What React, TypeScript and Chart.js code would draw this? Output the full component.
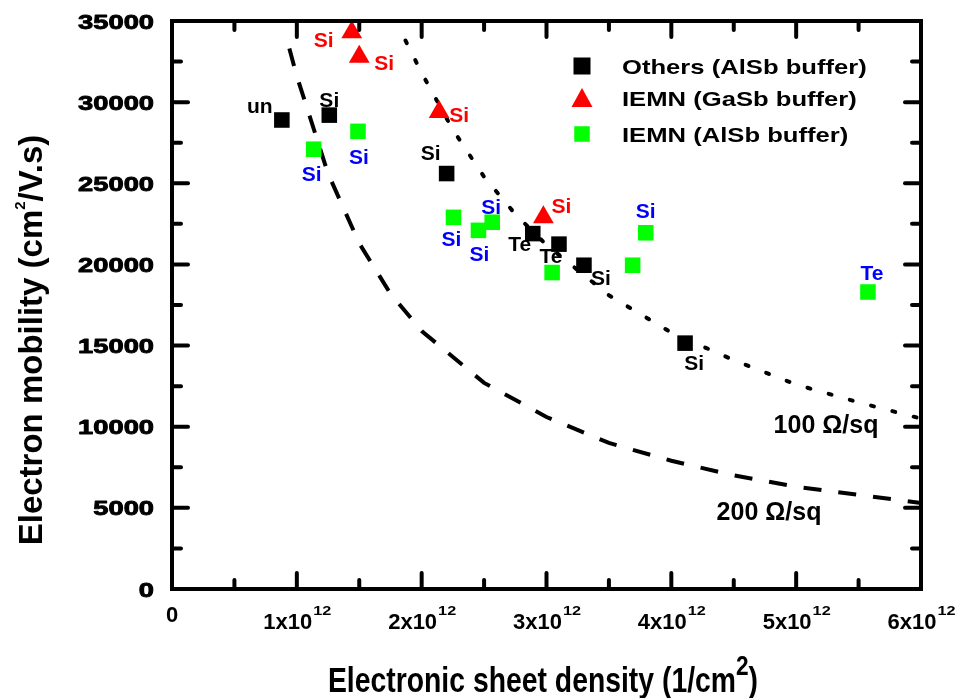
import React, { useEffect, useRef } from "react";
import { Chart, registerables } from "chart.js";

Chart.register(...registerables);

// Sheet density (cm^-2) and electron mobility (cm^2/V.s) of the reported structures
const othersDensity = [0.88e12, 1.26e12, 2.2e12, 2.89e12, 3.1e12, 3.3e12, 4.11e12];
const othersMobility = [28900, 29200, 25600, 21900, 21250, 19950, 15150];
const othersDoping = ["un", "Si", "Si", "Te", "Te", "Si", "Si"];

const gasbDensity = [1.44e12, 1.5e12, 2.14e12, 2.975e12];
const gasbMobility = [34300, 32800, 29400, 22900];
const gasbDoping = ["Si", "Si", "Si", "Si"];

const alsbDensity = [1.135e12, 1.49e12, 2.255e12, 2.455e12, 2.565e12, 3.045e12, 3.69e12, 3.795e12, 5.575e12];
const alsbMobility = [27100, 28200, 22900, 22100, 22600, 19500, 19950, 21950, 18300];
const alsbDoping = ["Si", "Si", "Si", "Si", "Si", "", "", "Si", "Te"];

// Constant sheet-resistance curves
const r100Density = [1.87e12, 2.0e12, 2.25e12, 2.5e12, 2.75e12, 3.0e12, 3.5e12, 4.0e12, 4.5e12, 5.0e12, 5.5e12, 6.0e12];
const r100Mobility = [33800, 31800, 28300, 25400, 23100, 21200, 18100, 15800, 14100, 12600, 11500, 10500];
const r200Density = [0.94e12, 1.0e12, 1.25e12, 1.5e12, 1.75e12, 2.0e12, 2.5e12, 3.0e12, 3.5e12, 4.0e12, 4.5e12, 5.0e12, 5.5e12, 6.0e12];
const r200Mobility = [33300, 31600, 25600, 21300, 18200, 15900, 12700, 10600, 9000, 7900, 7000, 6300, 5800, 5300];

const xTickValues = [0, 1e12, 2e12, 3e12, 4e12, 5e12, 6e12];
const xTickLabels = ["0", "1x10^12", "2x10^12", "3x10^12", "4x10^12", "5x10^12", "6x10^12"];
const xMinorTicks = [0.5e12, 1.5e12, 2.5e12, 3.5e12, 4.5e12, 5.5e12];
const yTickValues = [0, 5000, 10000, 15000, 20000, 25000, 30000, 35000];
const yTickLabels = ["0", "5000", "10000", "15000", "20000", "25000", "30000", "35000"];
const yMinorTicks = [2500, 7500, 12500, 17500, 22500, 27500, 32500];

const seriesNames = ["Others (AlSb buffer)", "IEMN (GaSb buffer)", "IEMN (AlSb buffer)"];
const curveNames = ["100 Ω/sq", "200 Ω/sq"];
const xTitle = ["Electronic sheet density (1/cm", "2", ")"];
const yTitle = ["Electron mobility (cm", "2", "/V.s)"];

// Pixel offsets of the doping tags from their markers
const othersTagOffset = [[-22, -14], [0, -16], [-16, -21], [-13, 10], [-8, 11], [17, 12], [9, 19]];
const gasbTagOffset = [[-28, 7], [25, 6], [20, 3], [18, -12]];
const alsbTagOffset = [[-2, 24], [1, 25], [-2, 21], [1, 23], [-1, -16], [0, 0], [0, 0], [0, -22], [4, -20]];

const FAMILY = '"Liberation Sans", Arial, sans-serif';
const BLACK = "#000000";
const RED = "#ff0000";
const GREEN = "#00ff00";
const BLUE = "#0000ff";

function pts(xs: number[], ys: number[]) {
  return xs.map((x, i) => ({ x, y: ys[i] }));
}

function text(
  ctx: CanvasRenderingContext2D,
  s: string,
  x: number,
  y: number,
  size: number,
  sx: number,
  align: CanvasTextAlign,
  heavy = 0
) {
  ctx.save();
  ctx.font = `bold ${size}px ${FAMILY}`;
  ctx.translate(x, y);
  ctx.scale(sx, 1);
  ctx.textAlign = align;
  ctx.textBaseline = "alphabetic";
  ctx.fillText(s, 0, 0);
  if (heavy > 0) {
    ctx.lineWidth = heavy;
    ctx.lineJoin = "round";
    ctx.strokeStyle = ctx.fillStyle;
    ctx.strokeText(s, 0, 0);
  }
  ctx.restore();
}

function width(ctx: CanvasRenderingContext2D, s: string, size: number, sx: number) {
  ctx.save();
  ctx.font = `bold ${size}px ${FAMILY}`;
  const w = ctx.measureText(s).width * sx;
  ctx.restore();
  return w;
}

const decorations = {
  id: "decorations",
  afterDatasetsDraw(chart: any) {
    const { ctx, chartArea: a, scales } = chart;
    const xs = scales.x;
    const ys = scales.y;
    ctx.save();
    ctx.fillStyle = BLACK;
    ctx.strokeStyle = BLACK;

    // ticks on all four sides, pointing inward
    ctx.lineWidth = 4;
    ctx.lineCap = "round";
    const tick = (x1: number, y1: number, x2: number, y2: number) => {
      ctx.beginPath();
      ctx.moveTo(x1, y1);
      ctx.lineTo(x2, y2);
      ctx.stroke();
    };
    const major = 16;
    const minor = 9;
    xTickValues.forEach((v) => {
      const px = xs.getPixelForValue(v);
      tick(px, a.bottom, px, a.bottom - major);
      tick(px, a.top, px, a.top + major);
    });
    xMinorTicks.forEach((v) => {
      const px = xs.getPixelForValue(v);
      tick(px, a.bottom, px, a.bottom - minor);
      tick(px, a.top, px, a.top + minor);
    });
    yTickValues.forEach((v) => {
      const py = ys.getPixelForValue(v);
      tick(a.left, py, a.left + major, py);
      tick(a.right, py, a.right - major, py);
    });
    yMinorTicks.forEach((v) => {
      const py = ys.getPixelForValue(v);
      tick(a.left, py, a.left + minor, py);
      tick(a.right, py, a.right - minor, py);
    });

    // frame
    ctx.lineCap = "butt";
    ctx.lineJoin = "miter";
    ctx.lineWidth = 4;
    ctx.strokeRect(a.left, a.top, a.right - a.left, a.bottom - a.top);

    // y tick labels
    yTickLabels.forEach((lab, i) => {
      const py = ys.getPixelForValue(yTickValues[i]);
      text(ctx, lab, a.left - 18, py + 7.5, 21, 1.3, "right", 0.9);
    });

    // x tick labels with exponent
    xTickLabels.forEach((lab, i) => {
      const px = xs.getPixelForValue(xTickValues[i]);
      const [base, exp] = lab.split("^");
      if (!exp) {
        text(ctx, base, px, a.bottom + 33, 22, 1, "center");
        return;
      }
      const w1 = width(ctx, base, 22, 1);
      const w2 = width(ctx, exp, 13, 1.25);
      const start = px - (w1 + w2) / 2;
      text(ctx, base, start, a.bottom + 40, 22, 1, "left");
      text(ctx, exp, start + w1 + 1, a.bottom + 26, 13, 1.25, "left");
    });

    // x axis title
    {
      const sx = 0.81;
      const w1 = width(ctx, xTitle[0], 35, sx);
      const w2 = width(ctx, xTitle[1], 28, sx);
      const w3 = width(ctx, xTitle[2], 35, sx);
      const cx = 543;
      const base = 692;
      let x0 = cx - (w1 + w2 + w3) / 2;
      text(ctx, xTitle[0], x0, base, 35, sx, "left");
      x0 += w1;
      text(ctx, xTitle[1], x0, base - 17, 28, sx, "left");
      x0 += w2;
      text(ctx, xTitle[2], x0, base, 35, sx, "left");
    }

    // y axis title
    {
      ctx.save();
      ctx.translate(42, 340);
      ctx.rotate(-Math.PI / 2);
      const w1 = width(ctx, yTitle[0], 33, 1);
      const w2 = width(ctx, yTitle[1], 15, 1);
      const w3 = width(ctx, yTitle[2], 33, 1);
      let x0 = -(w1 + w2 + w3) / 2;
      text(ctx, yTitle[0], x0, 0, 33, 1, "left");
      x0 += w1;
      text(ctx, yTitle[1], x0, -17, 15, 1, "left");
      x0 += w2;
      text(ctx, yTitle[2], x0, 0, 33, 1, "left");
      ctx.restore();
    }

    // doping tags next to markers
    const tags = (dx: number[], dy: number[], names: string[], off: number[][], color: string) => {
      ctx.fillStyle = color;
      names.forEach((n, i) => {
        if (!n) return;
        const px = xs.getPixelForValue(dx[i]) + off[i][0];
        const py = ys.getPixelForValue(dy[i]) + off[i][1];
        text(ctx, n, px, py + 7.5, 21, 1, "center");
      });
    };
    tags(othersDensity, othersMobility, othersDoping, othersTagOffset, BLACK);
    tags(gasbDensity, gasbMobility, gasbDoping, gasbTagOffset, RED);
    tags(alsbDensity, alsbMobility, alsbDoping, alsbTagOffset, BLUE);

    // curve labels
    ctx.fillStyle = BLACK;
    text(ctx, curveNames[0], 826, 433, 25, 1, "center");
    text(ctx, curveNames[1], 769, 520, 25, 1, "center");

    // legend
    const lx = 582;
    const rows = [66, 98, 134];
    ctx.fillStyle = BLACK;
    ctx.fillRect(lx - 8.5, rows[0] - 8.5, 17, 17);
    ctx.fillStyle = RED;
    ctx.beginPath();
    ctx.moveTo(lx, rows[1] - 10);
    ctx.lineTo(lx + 10.5, rows[1] + 9);
    ctx.lineTo(lx - 10.5, rows[1] + 9);
    ctx.closePath();
    ctx.fill();
    ctx.fillStyle = GREEN;
    ctx.fillRect(lx - 7.75, rows[2] - 7.75, 15.5, 15.5);
    ctx.fillStyle = BLACK;
    seriesNames.forEach((n, i) => {
      text(ctx, n, 622, rows[i] + 7.5, 21, 1.22, "left");
    });

    ctx.restore();
  },
};

export default function App() {
  const ref = useRef<HTMLCanvasElement | null>(null);

  useEffect(() => {
    if (!ref.current) return;
    const chart = new Chart(ref.current, {
      type: "scatter",
      data: {
        datasets: [
          {
            label: seriesNames[0],
            data: pts(othersDensity, othersMobility),
            pointStyle: "rect",
            pointRadius: 11,
            backgroundColor: BLACK,
            borderColor: BLACK,
            borderWidth: 0,
            order: 1,
          },
          {
            label: seriesNames[1],
            data: pts(gasbDensity, gasbMobility),
            pointStyle: "triangle",
            pointRadius: 12,
            backgroundColor: RED,
            borderColor: RED,
            borderWidth: 0,
            order: 1,
          },
          {
            label: seriesNames[2],
            data: pts(alsbDensity, alsbMobility),
            pointStyle: "rect",
            pointRadius: 11,
            backgroundColor: GREEN,
            borderColor: GREEN,
            borderWidth: 0,
            order: 1,
          },
          {
            label: curveNames[0],
            data: pts(r100Density, r100Mobility),
            showLine: true,
            pointRadius: 0,
            borderColor: BLACK,
            borderWidth: 4,
            borderDash: [3, 19],
            borderCapStyle: "round",
            tension: 0,
            fill: false,
            order: 5,
          },
          {
            label: curveNames[1],
            data: pts(r200Density, r200Mobility),
            showLine: true,
            pointRadius: 0,
            borderColor: BLACK,
            borderWidth: 4,
            borderDash: [18, 17],
            borderCapStyle: "butt",
            tension: 0,
            fill: false,
            order: 5,
          },
        ],
      },
      options: {
        animation: false,
        responsive: true,
        maintainAspectRatio: false,
        events: [],
        layout: { padding: { left: 172, right: 37, top: 21, bottom: 109 } },
        plugins: { legend: { display: false }, tooltip: { enabled: false } },
        scales: {
          x: { type: "linear", min: 0, max: 6e12, display: false },
          y: { type: "linear", min: 0, max: 35000, display: false },
        },
      },
      plugins: [decorations],
    });
    return () => chart.destroy();
  }, []);

  return (
    <div style={{ position: "fixed", left: 0, top: 0, width: 958, height: 698, background: "#fff" }}>
      <canvas ref={ref} />
    </div>
  );
}
